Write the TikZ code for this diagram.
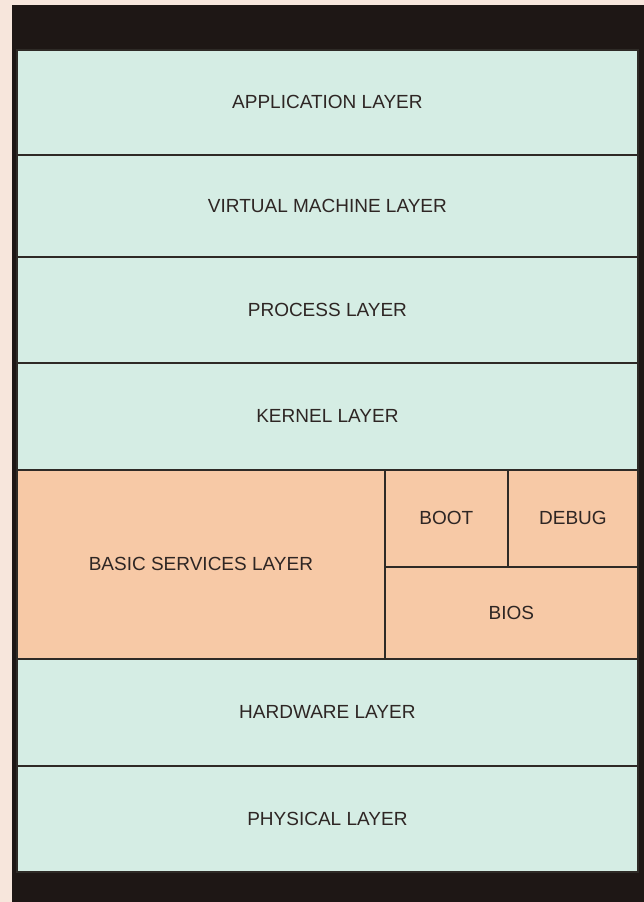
\documentclass[tikz,border=0pt]{standalone}
\usepackage{fontspec}
\setmainfont{Liberation Sans}
\definecolor{pagebg}{HTML}{F7E6DC}
\definecolor{frame}{HTML}{1E1715}
\definecolor{mint}{HTML}{D5EDE4}
\definecolor{peach}{HTML}{F7C9A6}
\definecolor{rule}{HTML}{2E2A26}
\definecolor{ink}{HTML}{2E2624}
\begin{document}
\begin{tikzpicture}[x=1pt,y=-1pt,
  layer/.style={draw=rule, line width=1.8pt, inner sep=0pt, anchor=north west,
    text=ink, font=\fontsize{19}{21}\selectfont},
  bluelayer/.style={layer, fill=mint},
  orangelayer/.style={layer, fill=peach}]
\useasboundingbox (0,0) rectangle (644,902);
\fill[pagebg] (0,0) rectangle (644,902);
\fill[frame] (12,5) rectangle (644,902);
\node[bluelayer, minimum width=621pt, minimum height=105pt] (app) at (16,49) {APPLICATION LAYER};
\node[bluelayer, minimum width=621pt, minimum height=102pt] (vm) at (16,154) {VIRTUAL MACHINE LAYER};
\node[bluelayer, minimum width=621pt, minimum height=106pt] (proc) at (16,256) {PROCESS LAYER};
\node[bluelayer, minimum width=621pt, minimum height=107pt] (kern) at (16,362) {KERNEL LAYER};
\node[orangelayer, minimum width=368pt, minimum height=189pt] (basic) at (16,469) {BASIC SERVICES LAYER};
\node[orangelayer, minimum width=123pt, minimum height=97pt] (boot) at (384,469) {BOOT};
\node[orangelayer, minimum width=130pt, minimum height=97pt] (debug) at (507,469) {DEBUG};
\node[orangelayer, minimum width=253pt, minimum height=92pt] (bios) at (384,566) {BIOS};
\node[bluelayer, minimum width=621pt, minimum height=107pt] (hw) at (16,658) {HARDWARE LAYER};
\node[bluelayer, minimum width=621pt, minimum height=106pt] (phys) at (16,765) {PHYSICAL LAYER};
\end{tikzpicture}
\end{document}
